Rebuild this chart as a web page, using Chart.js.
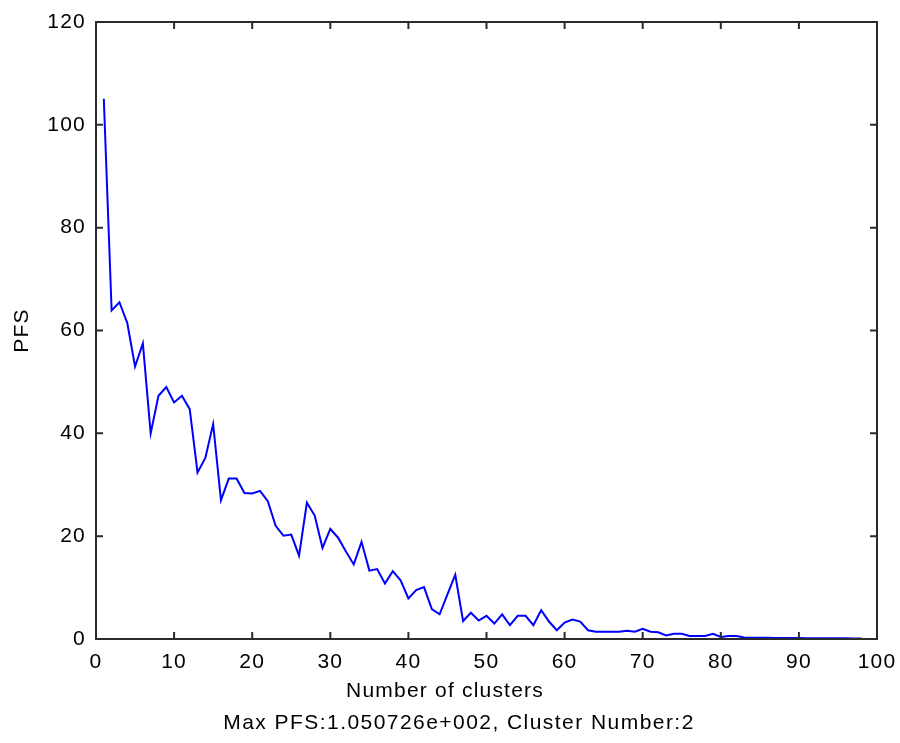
<!DOCTYPE html>
<html>
<head>
<meta charset="utf-8">
<title>PFS vs number of clusters</title>
<script src="https://cdn.jsdelivr.net/npm/chart.js@4.4.1/dist/chart.umd.min.js"></script>
<style>
    html, body { margin: 0; padding: 0; background: #ffffff; }
    #wrap { width: 900px; height: 743px; }
</style>
</head>
<body>
<div id="wrap"><canvas id="chart-pfs" width="900" height="743"></canvas></div>
<script>
// Cluster counts tried and the PFS score for each
const clusterNumbers = [
    1, 2, 3, 4, 5, 6, 7, 8, 9, 10,
    11, 12, 13, 14, 15, 16, 17, 18, 19, 20,
    21, 22, 23, 24, 25, 26, 27, 28, 29, 30,
    31, 32, 33, 34, 35, 36, 37, 38, 39, 40,
    41, 42, 43, 44, 45, 46, 47, 48, 49, 50,
    51, 52, 53, 54, 55, 56, 57, 58, 59, 60,
    61, 62, 63, 64, 65, 66, 67, 68, 69, 70,
    71, 72, 73, 74, 75, 76, 77, 78, 79, 80,
    81, 82, 83, 84, 85, 86, 87, 88, 89, 90,
    91, 92, 93, 94, 95, 96, 97, 98
];
const pfsValues = [
    105.07, 63.9, 65.5, 61.5, 53.0, 57.5, 40.0, 47.3, 49.0, 46.0,
    47.3, 44.7, 32.4, 35.2, 41.8, 27.0, 31.2, 31.2, 28.4, 28.3,
    28.8, 26.8, 22.0, 20.1, 20.3, 16.2, 26.5, 24.0, 17.7, 21.4,
    19.7, 17.0, 14.5, 18.9, 13.3, 13.6, 10.8, 13.2, 11.4, 7.9,
    9.5, 10.1, 5.8, 4.8, 8.7, 12.5, 3.5, 5.1, 3.6, 4.5,
    3.0, 4.8, 2.7, 4.5, 4.5, 2.7, 5.6, 3.4, 1.7, 3.2,
    3.8, 3.4, 1.7, 1.4, 1.4, 1.4, 1.4, 1.6, 1.4, 2.0,
    1.4, 1.3, 0.7, 1.0, 1.0, 0.6, 0.6, 0.6, 1.0, 0.4,
    0.6, 0.6, 0.3, 0.25, 0.24, 0.22, 0.2, 0.2, 0.19, 0.18,
    0.17, 0.16, 0.15, 0.15, 0.14, 0.13, 0.12, 0.12
];
const xTicks = [0, 10, 20, 30, 40, 50, 60, 70, 80, 90, 100];
const yTicks = [0, 20, 40, 60, 80, 100, 120];

const xTitle = 'Number of clusters';
const yTitle = 'PFS';
const caption = 'Max PFS:1.050726e+002, Cluster Number:2';

const FONT = '"Liberation Sans", Arial, sans-serif';
const FRAME = '#2b2b2b';

// Box around the axes with inward tick marks on all four sides, plus axis titles
const matlabAxes = {
    id: 'matlabAxes',
    beforeDraw(chart) {
        chart.ctx.letterSpacing = '1.2px';
    },
    afterDraw(chart) {
        const { ctx, chartArea: a, scales } = chart;
        const tick = 7;
        ctx.save();
        ctx.strokeStyle = FRAME;
        ctx.lineWidth = 2;
        ctx.strokeRect(a.left, a.top, a.right - a.left, a.bottom - a.top);

        ctx.beginPath();
        xTicks.forEach(v => {
            const px = scales.x.getPixelForValue(v);
            ctx.moveTo(px, a.bottom); ctx.lineTo(px, a.bottom - tick);
            ctx.moveTo(px, a.top); ctx.lineTo(px, a.top + tick);
        });
        yTicks.forEach(v => {
            const py = scales.y.getPixelForValue(v);
            ctx.moveTo(a.left, py); ctx.lineTo(a.left + tick, py);
            ctx.moveTo(a.right, py); ctx.lineTo(a.right - tick, py);
        });
        ctx.stroke();

        ctx.fillStyle = '#000';
        ctx.font = '21px ' + FONT;
        ctx.textAlign = 'center';
        ctx.textBaseline = 'middle';
        // xlabel and caption sit a little left of the axes centre
        ctx.letterSpacing = '1.2px';
        ctx.fillText(xTitle, 445, a.bottom + 52);
        ctx.letterSpacing = '1.45px';
        ctx.fillText(caption, 459, a.bottom + 84);

        ctx.letterSpacing = '1.2px';
        ctx.translate(22, (a.top + a.bottom) / 2);
        ctx.rotate(-Math.PI / 2);
        ctx.fillText(yTitle, 0, 0);
        ctx.restore();
    }
};

const ctx = document.getElementById('chart-pfs').getContext('2d');
const pfsChart = new Chart(ctx, {
    type: 'line',
    data: {
        datasets: [{
            data: clusterNumbers.map((n, i) => ({ x: n, y: pfsValues[i] })),
            borderColor: '#0000ff',
            borderWidth: 2,
            pointRadius: 0,
            tension: 0,
            fill: false
        }]
    },
    options: {
        responsive: false,
        animation: false,
        devicePixelRatio: 1,
        layout: { padding: { top: 22, right: 23, left: 0, bottom: 0 } },
        plugins: {
            legend: { display: false },
            tooltip: { enabled: false }
        },
        scales: {
            x: {
                type: 'linear',
                min: 0,
                max: 100,
                afterFit: scale => {
                    scale.height = 104;
                    scale.paddingLeft = 0;
                    scale.paddingRight = 0;
                },
                afterBuildTicks: scale => { scale.ticks = xTicks.map(v => ({ value: v })); },
                grid: { display: false, drawTicks: false },
                border: { display: false },
                ticks: {
                    color: '#000',
                    font: { family: FONT, size: 21 },
                    padding: 11,
                    maxRotation: 0,
                    autoSkip: false
                }
            },
            y: {
                type: 'linear',
                min: 0,
                max: 120,
                afterFit: scale => {
                    scale.width = 96;
                    scale.paddingTop = 0;
                    scale.paddingBottom = 0;
                },
                afterBuildTicks: scale => { scale.ticks = yTicks.map(v => ({ value: v })); },
                grid: { display: false, drawTicks: false },
                border: { display: false },
                ticks: {
                    color: '#000',
                    font: { family: FONT, size: 21 },
                    padding: 10
                }
            }
        }
    },
    plugins: [matlabAxes]
});
</script>
</body>
</html>
